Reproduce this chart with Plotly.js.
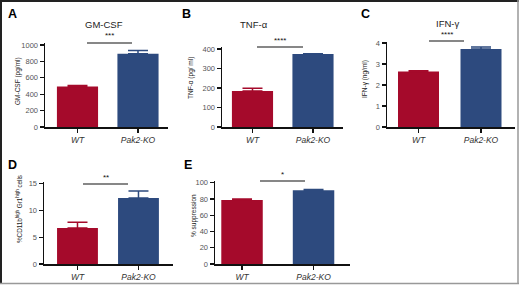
<!DOCTYPE html>
<html><head><meta charset="utf-8">
<script src="https://cdn.plot.ly/plotly-3.0.1.min.js"></script>
<style>html,body{margin:0;padding:0;background:#fff}#chart{width:520px;height:286px}</style>
</head><body><div id="chart"></div>
<script>
// ---- data ----
var groups = ['WT', 'Pak2-KO'];
var gmcsf = [495, 893];         var gmcsfErr = [10, 40];
var tnfa = [185, 374];          var tnfaErr = [13, 2];
var ifng = [2.65, 3.72];        var ifngErr = [0.03, 0.09];
var cd11b = [6.7, 12.3];        var cd11bErr = [1.1, 1.3];
var suppression = [78.5, 90.5]; var suppressionErr = [1.5, 1];
var panelLetters = ['A', 'B', 'C', 'D', 'E'];
var panelTitles = ['GM-CSF', 'TNF-α', 'IFN-γ', '', ''];
var yTitles = ['GM-CSF (pg/ml)', 'TNF-α (pg/ ml)', 'IFN-γ (ng/ml)',
  '%CD11b<sup>high</sup> Gr1<sup>high</sup> cells', '% suppression'];
var sigLabels = ['***', '****', '****', '**', '*'];

// ---- layout geometry (pixels) ----
var W = 520, H = 286;
function fx(p){ return p / W; }
function fy(p){ return 1 - p / H; }
var RED = '#a50a2b', BLUE = '#2d4a7e';
var FONT = 'Liberation Sans Narrow, Arial Narrow, Liberation Sans, Arial, sans-serif';

var panels = [
  {vals: gmcsf, err: gmcsfErr, x0: 45, x1: 168, yTop: 43, yBot: 127, range: [0, 1024], dtick: 200, xr: [-0.537, 1.496], bw: 0.68,
   letter: [12, 14], title: [104, 24], ytitle: [18, 81], ysz: 6.5, sig: [87, 132, 43]},
  {vals: tnfa, err: tnfaErr, x0: 222, x1: 343, yTop: 47, yBot: 127, range: [0, 410], dtick: 100, xr: [-0.504, 1.496], bw: 0.68,
   letter: [186, 14], title: [254, 24], ytitle: [191, 78], ysz: 6.5, sig: [257, 303, 47]},
  {vals: ifng, err: ifngErr, x0: 387, x1: 515, yTop: 42, yBot: 127, range: [0, 4.05], dtick: 1, xr: [-0.504, 1.544], bw: 0.656,
   letter: [365, 14], title: [447, 23], ytitle: [365, 79], ysz: 6.5, sig: [429, 464, 41]},
  {vals: cd11b, err: cd11bErr, x0: 44, x1: 173, yTop: 182, yBot: 264, range: [0, 15.3], dtick: 5, xr: [-0.549, 1.566], bw: 0.67,
   letter: [12, 165], title: null, ytitle: [19, 209], ysz: 6.3, sig: [83, 128, 184]},
  {vals: suppression, err: suppressionErr, x0: 215, x1: 350, yTop: 181, yBot: 264, range: [0, 102], dtick: 20, xr: [-0.378, 1.51], bw: 0.58,
   letter: [188, 165], title: null, ytitle: [194, 216], ysz: 6.5, sig: [260, 305, 181]}
];

var data = [], layout = {
  width: W, height: H, margin: {l: 0, r: 0, t: 0, b: 0},
  paper_bgcolor: '#fff', plot_bgcolor: 'rgba(0,0,0,0)', showlegend: false,
  font: {family: FONT, size: 8, color: '#333'},
  annotations: [], shapes: [], barmode: 'overlay'
};

function barTrace(xa, ya, cat, val, err, color, bw){
  return {type: 'bar', x: [cat], y: [val], xaxis: xa, yaxis: ya, width: bw,
    marker: {color: color, line: {width: 0}},
    error_y: {type: 'data', symmetric: false, array: [err], arrayminus: [0], color: color, thickness: 1.5, width: 10},
    hoverinfo: 'none'};
}

panels.forEach(function(p, i){
  var n = i === 0 ? '' : String(i + 1);
  var xa = 'x' + n, ya = 'y' + n;
  data.push(barTrace(xa, ya, groups[0], p.vals[0], p.err[0], RED, p.bw));
  data.push(barTrace(xa, ya, groups[1], p.vals[1], p.err[1], BLUE, p.bw));
  layout['xaxis' + n] = {
    domain: [fx(p.x0), fx(p.x1)], anchor: ya, type: 'category', categoryarray: groups, categoryorder: 'array', range: p.xr,
    showline: true, linecolor: '#111', linewidth: 1.5, ticks: 'outside', ticklen: 4, tickwidth: 1.2, tickcolor: '#111',
    showgrid: false, zeroline: false, fixedrange: true,
    tickfont: {family: FONT, size: 8.5, color: '#333', style: 'italic'}
  };
  layout['yaxis' + n] = {
    domain: [fy(p.yBot), fy(p.yTop)], anchor: xa, range: p.range, dtick: p.dtick, tick0: 0,
    showline: true, linecolor: '#111', linewidth: 1.5, ticks: 'outside', ticklen: 4, tickwidth: 1.2, tickcolor: '#111',
    showgrid: false, zeroline: false, fixedrange: true,
    tickfont: {family: FONT, size: 7.5, color: '#555'}
  };
  layout.annotations.push({xref: 'paper', yref: 'paper', x: fx(p.letter[0]), y: fy(p.letter[1]), text: '<b>' + panelLetters[i] + '</b>',
    showarrow: false, xanchor: 'center', yanchor: 'middle', font: {family: 'Liberation Sans, Arial, sans-serif', size: 12.5, color: '#000'}});
  if (p.title) layout.annotations.push({xref: 'paper', yref: 'paper', x: fx(p.title[0]), y: fy(p.title[1]), text: panelTitles[i],
    showarrow: false, xanchor: 'center', yanchor: 'middle', font: {family: FONT, size: 9.5, color: '#222'}});
  layout.annotations.push({xref: 'paper', yref: 'paper', x: fx(p.ytitle[0]), y: fy(p.ytitle[1]), text: yTitles[i], textangle: -90,
    showarrow: false, xanchor: 'center', yanchor: 'middle', font: {family: FONT, size: p.ysz, color: '#222'}});
  layout.shapes.push({type: 'line', xref: 'paper', yref: 'paper', x0: fx(p.sig[0]), x1: fx(p.sig[1]), y0: fy(p.sig[2]), y1: fy(p.sig[2]),
    line: {color: '#111', width: 1.2}});
  layout.annotations.push({xref: 'paper', yref: 'paper', x: fx((p.sig[0] + p.sig[1]) / 2), y: fy(p.sig[2] - 0.5), text: sigLabels[i],
    showarrow: false, xanchor: 'center', yanchor: 'bottom', font: {family: FONT, size: 8, color: '#111'}});
});

// outer frame
layout.shapes.push({type: 'line', xref: 'paper', yref: 'paper', x0: fx(1), x1: fx(1), y0: fy(0), y1: fy(284), line: {color: '#222', width: 2}});
layout.shapes.push({type: 'line', xref: 'paper', yref: 'paper', x0: fx(0), x1: fx(519), y0: fy(1), y1: fy(1), line: {color: '#222', width: 2}});
layout.shapes.push({type: 'line', xref: 'paper', yref: 'paper', x0: fx(518), x1: fx(518), y0: fy(0), y1: fy(284), line: {color: '#999', width: 1.5}});
layout.shapes.push({type: 'line', xref: 'paper', yref: 'paper', x0: fx(0), x1: fx(519), y0: fy(283.5), y1: fy(283.5), line: {color: '#999', width: 1.5}});

Plotly.newPlot('chart', data, layout, {staticPlot: true, displayModeBar: false});
</script></body></html>
